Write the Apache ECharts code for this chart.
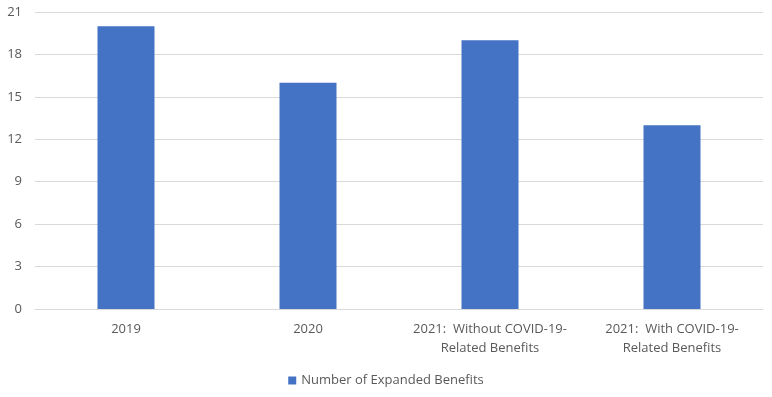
<!DOCTYPE html>
<html>
<head>
<meta charset="utf-8">
<script src="https://cdn.jsdelivr.net/npm/echarts@6/dist/echarts.min.js"></script>
<style>
  html, body { margin: 0; padding: 0; background: #fff; }
  #chart { width: 772px; height: 397px; }
</style>
</head>
<body>
<div id="chart"></div>
<script>
const categories = ['2019', '2020', '2021:  Without COVID-19-\nRelated Benefits', '2021:  With COVID-19-\nRelated Benefits'];
const benefitCounts = [20, 16, 19, 13];
const seriesName = 'Number of Expanded Benefits';

const font = "'Open Sans', 'Noto Sans', sans-serif";
const chart = echarts.init(document.getElementById('chart'), null, { renderer: 'canvas' });
chart.setOption({
    animation: false,
    textStyle: { fontFamily: font },
    grid: { left: 35, right: 9, top: 12, bottom: 88 },
    legend: {
        bottom: 5, left: 'center',
        itemWidth: 8, itemHeight: 8, icon: 'rect', itemGap: 5,
        textStyle: { fontFamily: font, fontSize: 13, color: '#595959' },
        data: [seriesName]
    },
    xAxis: {
        type: 'category',
        data: categories,
        axisLine: { lineStyle: { color: '#d9d9d9' } },
        axisTick: { show: false },
        axisLabel: { color: '#595959', fontSize: 13, lineHeight: 19, margin: 11, interval: 0 }
    },
    yAxis: {
        type: 'value', min: 0, max: 21, interval: 3,
        axisLine: { show: false },
        axisTick: { show: false },
        axisLabel: { color: '#595959', fontSize: 13, margin: 13 },
        splitLine: { lineStyle: { color: '#d9d9d9' } }
    },
    series: [{
        name: seriesName,
        type: 'bar',
        data: benefitCounts,
        barWidth: 57,
        itemStyle: { color: '#4472c4' }
    }]
});
</script>
</body>
</html>
